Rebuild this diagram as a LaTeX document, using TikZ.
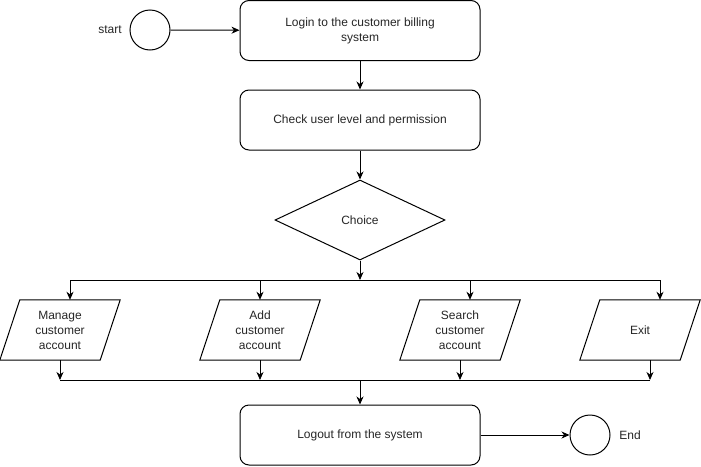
\documentclass[tikz,border=0pt]{standalone}
\usepackage{fontspec}
\setmainfont{Liberation Sans}
\usetikzlibrary{shapes.geometric,arrows.meta}
\begin{document}
\begin{tikzpicture}[x=1pt,y=-1pt,
  every node/.style={font=\fontsize{12}{15}\selectfont, text=black!85},
  line/.style={line width=1pt, black},
  arr/.style={line, -{Stealth[length=8pt,width=7pt,inset=2.5pt]}},
  procbox/.style={draw, line width=1pt, rounded corners=9pt, minimum width=240pt, minimum height=60pt, inner sep=0pt, align=center},
  term/.style={draw, line width=1pt, circle, minimum size=40pt, inner sep=0pt},
  decision/.style={draw, line width=1pt, diamond, minimum width=170pt, minimum height=80pt, inner sep=0pt},
  parabody/.style={minimum width=100pt, minimum height=60pt, inner sep=0pt, align=center},
  paraline/.style={line width=1pt, line join=miter}
]
\useasboundingbox (0,0) rectangle (701,466);

% terminals and labels
\node[term] (start) at (150,30) {};
\node (startlbl) at (110,30) {start};
\node[term] (end) at (590,435) {};
\node (endlbl) at (630,435) {End};

% process boxes
\node[procbox] (login) at (360,30.5) {Login to the customer billing\\system};
\node[procbox] (check) at (360,120) {Check user level and permission};
\node[decision] (choice) at (360,220) {Choice};
\node[procbox] (logout) at (360,435) {Logout from the system};

% parallelograms (bounding boxes 120x60, skew 20)
\node[parabody] (manage) at (60,330) {Manage\\customer\\account};
\node[parabody] (add) at (260,330) {Add\\customer\\account};
\node[parabody] (search) at (460,330) {Search\\customer\\account};
\node[parabody] (exit) at (640,330) {Exit};
\foreach \n in {manage,add,search,exit}{
  \draw[paraline] ([xshift=-10pt]\n.south west) -- ([xshift=10pt]\n.north west)
     -- ([xshift=10pt]\n.north east) -- ([xshift=-10pt]\n.south east) -- cycle;
}

% junction points
\coordinate (j1) at (360,280);
\coordinate (j2) at (360,380);

% connectors
\draw[arr] (start) -- (login);
\draw[arr] (login) -- (check);
\draw[arr] (check) -- (choice);
\draw[arr] (choice) -- (j1);
\draw[line] ([xshift=10pt]manage.north |- j1) -- ([xshift=20pt]exit.north |- j1);
\draw[arr] (j1) -| ([xshift=10pt]manage.north);
\draw[arr] (j1) -| (add.north);
\draw[arr] (j1) -| ([xshift=10pt]search.north);
\draw[arr] (j1) -| ([xshift=20pt]exit.north);

\draw[arr] (manage.south) -- (manage.south |- j2);
\draw[arr] (add.south) -- (add.south |- j2);
\draw[arr] (search.south) -- (search.south |- j2);
\draw[arr] ([xshift=10pt]exit.south) -- ([xshift=10pt]exit.south |- j2);
\draw[line] (manage.south |- j2) -- ([xshift=10pt]exit.south |- j2);
\draw[arr] (j2) -- (logout);
\draw[arr] (logout) -- (end);
\end{tikzpicture}
\end{document}
